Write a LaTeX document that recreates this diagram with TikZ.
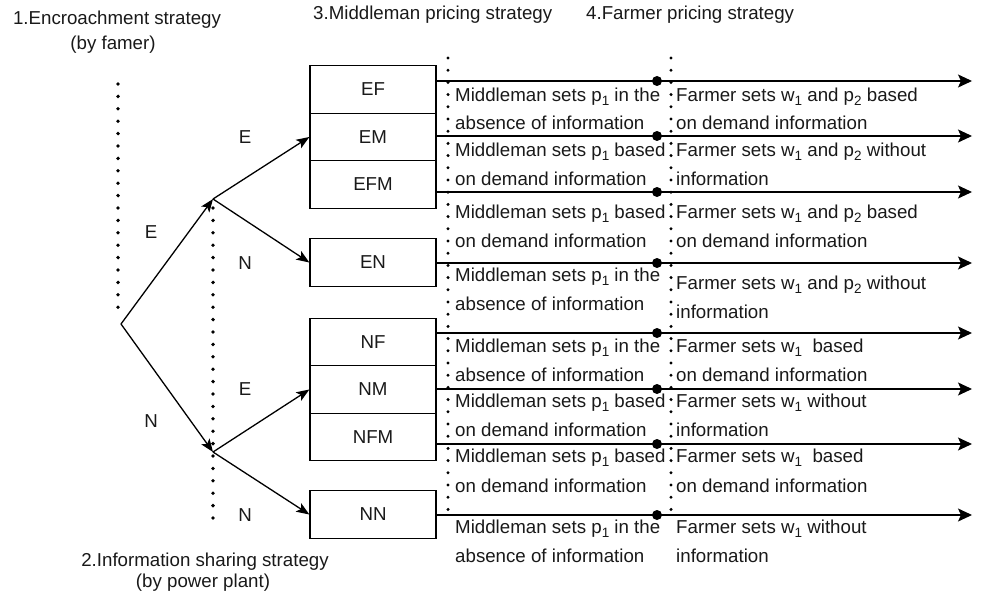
\documentclass[tikz,border=0pt]{standalone}
\usepackage{fontspec}
\setmainfont{Liberation Sans}
\usetikzlibrary{arrows.meta}
\newcommand\lowidx[1]{\raisebox{-0.4ex}{\fontsize{13.5}{13.5}\selectfont #1}}
\begin{document}
\begin{tikzpicture}[x=1pt,y=-1pt,
  every node/.style={font=\fontsize{18.7}{22}\selectfont, text=black!90},
  lbl/.style={anchor=west,inner sep=0pt},
  stratbox/.style={draw=black,line width=1.3pt,minimum width=126pt,minimum height=47.5pt,inner sep=0pt},
  dotline/.style={line width=3.8pt,line cap=round,dash pattern=on 0pt off 12.4pt},
  coldots/.style={line width=3.3pt,line cap=round,dash pattern=on 0pt off 12.2pt},
  treearrow/.style={line width=1.3pt,-{Stealth[length=13pt,width=10pt,inset=3pt]}},
  harrow/.style={line width=1.4pt,-{Stealth[length=14pt,width=13pt,inset=3pt]}},
  bullet/.style={circle,fill,inner sep=0pt,minimum size=10pt}
]
\useasboundingbox (0,0) rectangle (981,596);

% dotted guide lines
\draw[dotline] (118,84) -- (118,318);
\draw[dotline] (213,208) -- (213,528);
\draw[coldots] (448,58) -- (448,512);
\draw[coldots] (671,58) -- (671,512);

% titles
\node (t1) at (117,20) {1.Encroachment strategy};
\node (t1b) at (113,45) {(by famer)};
\node[lbl] (t3) at (313,15) {3.Middleman pricing strategy};
\node[lbl] (t4) at (586,15) {4.Farmer pricing strategy};
\node (t2) at (205,562) {2.Information sharing strategy};
\node (t2b) at (203,583) {(by power plant)};

% tree points
\coordinate (root) at (121,324);
\coordinate (up) at (213,199);
\coordinate (low) at (213,452);

% strategy boxes
\node[stratbox] (EF) at (373,89.5) {EF};
\node[stratbox] (EM) at (373,137) {EM};
\node[stratbox] (EFM) at (373,184.5) {EFM};
\node[stratbox] (EN) at (373,262.5) {EN};
\node[stratbox] (NF) at (373,342) {NF};
\node[stratbox] (NM) at (373,389.5) {NM};
\node[stratbox] (NFM) at (373,437) {NFM};
\node[stratbox] (NN) at (373,514.5) {NN};

% tree arrows
\draw[treearrow] (root) -- (up);
\draw[treearrow] (root) -- (low);
\draw[treearrow] (up) -- (EM.west);
\draw[treearrow] (up) -- (EN.west);
\draw[treearrow] (low) -- (NM.west);
\draw[treearrow] (low) -- (NN.west);

% tree labels
\node (lE1) at (151,232) {E};
\node (lN1) at (151,421) {N};
\node (lE2) at (245,137) {E};
\node (lN2) at (245,263) {N};
\node (lE3) at (245,389) {E};
\node (lN3) at (245,515) {N};

% horizontal timelines
\foreach \nm/\yy in {EF/81,EM/136,EFM/192,EN/263,NF/333,NM/389,NFM/444,NN/515}{
  \coordinate (end\nm) at (972,\yy);
  \draw[harrow] (\nm.east |- end\nm) -- (end\nm);
  \node[bullet] (dot\nm) at (657,\yy) {};
}

% Middleman texts
\node[lbl] (m1a) at (455,97) {Middleman sets p\lowidx{1} in the};
\node[lbl] (m1b) at (455,123) {absence of information};
\node[lbl] (m2a) at (455,152) {Middleman sets p\lowidx{1} based};
\node[lbl] (m2b) at (455,179) {on demand information};
\node[lbl] (m3a) at (455,214) {Middleman sets p\lowidx{1} based};
\node[lbl] (m3b) at (455,241) {on demand information};
\node[lbl] (m4a) at (455,277) {Middleman sets p\lowidx{1} in the};
\node[lbl] (m4b) at (455,304) {absence of information};
\node[lbl] (m5a) at (455,348) {Middleman sets p\lowidx{1} in the};
\node[lbl] (m5b) at (455,375) {absence of information};
\node[lbl] (m6a) at (455,403) {Middleman sets p\lowidx{1} based};
\node[lbl] (m6b) at (455,430) {on demand information};
\node[lbl] (m7a) at (455,458) {Middleman sets p\lowidx{1} based};
\node[lbl] (m7b) at (455,486) {on demand information};
\node[lbl] (m8a) at (455,529) {Middleman sets p\lowidx{1} in the};
\node[lbl] (m8b) at (455,556) {absence of information};

% Farmer texts
\node[lbl] (f1a) at (676,97) {Farmer sets w\lowidx{1} and p\lowidx{2} based};
\node[lbl] (f1b) at (676,123) {on demand information};
\node[lbl] (f2a) at (676,152) {Farmer sets w\lowidx{1} and p\lowidx{2} without};
\node[lbl] (f2b) at (676,179) {information};
\node[lbl] (f3a) at (676,214) {Farmer sets w\lowidx{1} and p\lowidx{2} based};
\node[lbl] (f3b) at (676,241) {on demand information};
\node[lbl] (f4a) at (676,285) {Farmer sets w\lowidx{1} and p\lowidx{2} without};
\node[lbl] (f4b) at (676,312) {information};
\node[lbl] (f5a) at (676,348) {Farmer sets w\lowidx{1}\ \ based};
\node[lbl] (f5b) at (676,375) {on demand information};
\node[lbl] (f6a) at (676,403) {Farmer sets w\lowidx{1} without};
\node[lbl] (f6b) at (676,430) {information};
\node[lbl] (f7a) at (676,458) {Farmer sets w\lowidx{1}\ \ based};
\node[lbl] (f7b) at (676,486) {on demand information};
\node[lbl] (f8a) at (676,529) {Farmer sets w\lowidx{1} without};
\node[lbl] (f8b) at (676,556) {information};
\end{tikzpicture}
\end{document}
